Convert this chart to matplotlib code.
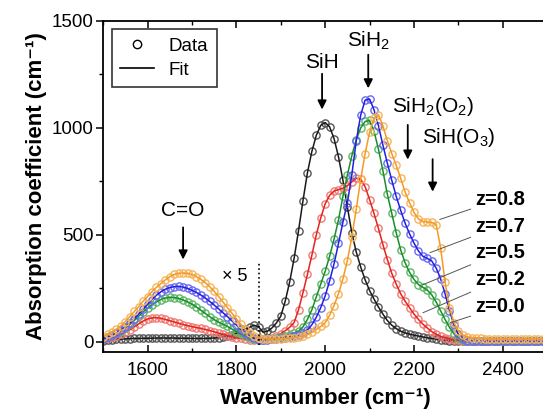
import numpy as np
import matplotlib
matplotlib.use("Agg")
import matplotlib.pyplot as plt
from matplotlib.lines import Line2D

plt.rcParams['font.family'] = ['Liberation Sans', 'DejaVu Sans']
plt.rcParams['mathtext.fontset'] = 'custom'
plt.rcParams['mathtext.rm'] = 'Liberation Sans'
plt.rcParams['mathtext.it'] = 'Liberation Sans:italic'
plt.rcParams['mathtext.bf'] = 'Liberation Sans:bold'

# FTIR spectra, 1500-2500 cm-1 in 10 cm-1 steps (values below 1850 already x5)
wavenumber = np.arange(1500, 2501, 10)

z00 = [5, 8, 10, 12, 13, 14, 15, 16, 16, 17,
       17, 17, 18, 18, 18, 18, 18, 17, 17, 17,
       16, 16, 16, 16, 17, 18, 20, 23, 27, 32,
       40, 48, 58, 68, 78, 70, 45, 50, 65, 88,
       120, 190, 280, 390, 520, 660, 790, 890, 965, 1012,
       1025, 1005, 950, 865, 755, 630, 510, 420, 350, 290,
       240, 200, 163, 130, 100, 78, 62, 50, 42, 36,
       31, 27, 23, 19, 16, 13, 10, 8, 6, 5,
       4, 3, 3, 2, 2, 2, 2, 2, 2, 2,
       2, 2, 2, 2, 2, 2, 2, 2, 2, 2, 2]

z02 = [15, 18, 22, 28, 36, 46, 57, 70, 84, 97,
       107, 112, 113, 110, 105, 99, 93, 87, 81, 76,
       71, 67, 63, 58, 53, 47, 41, 35, 29, 24,
       19, 16, 13, 11, 10, 10, 12, 15, 20, 28,
       38, 52, 68, 90, 150, 230, 315, 405, 500, 580,
       645, 685, 705, 712, 718, 730, 748, 765, 760, 725,
       665, 600, 530, 455, 385, 320, 270, 225, 190, 160,
       130, 105, 83, 65, 48, 36, 26, 19, 14, 10,
       7, 5, 4, 3, 3, 3, 3, 3, 3, 3,
       3, 3, 3, 3, 3, 3, 3, 3, 3, 3, 3]

z05 = [15, 22, 30, 40, 52, 66, 82, 100, 120, 140,
       158, 174, 187, 198, 205, 208, 207, 203, 196, 187,
       176, 163, 148, 133, 118, 104, 92, 82, 72, 60,
       48, 36, 26, 18, 12, 9, 10, 12, 15, 19,
       24, 28, 34, 42, 50, 70, 105, 150, 210, 270,
       330, 400, 480, 570, 680, 780, 870, 945, 1000, 1030,
       1035, 985, 900, 800, 690, 600, 510, 430, 370, 325,
       292, 268, 255, 242, 220, 186, 145, 105, 68, 38,
       18, 9, 5, 3, 3, 3, 3, 3, 3, 3,
       3, 3, 3, 3, 3, 3, 3, 3, 3, 3, 3]

z07 = [15, 22, 31, 42, 55, 70, 88, 108, 130, 153,
       176, 198, 218, 234, 246, 254, 258, 259, 256, 250,
       241, 231, 219, 205, 189, 172, 154, 136, 118, 98,
       79, 58, 40, 26, 16, 10, 9, 10, 12, 14,
       17, 20, 24, 28, 33, 40, 55, 80, 115, 160,
       215, 285, 365, 460, 560, 650, 780, 940, 1060, 1130,
       1135, 1085, 1010, 920, 835, 755, 680, 615, 555, 505,
       462, 425, 400, 390, 378, 345, 295, 225, 145, 80,
       35, 14, 6, 3, 3, 3, 3, 3, 3, 3,
       3, 3, 3, 3, 3, 3, 3, 3, 3, 3, 3]

z08 = [25, 35, 47, 60, 75, 95, 118, 142, 165, 190,
       212, 235, 255, 272, 290, 305, 315, 320, 322, 320,
       315, 305, 292, 277, 258, 236, 212, 186, 160, 134,
       108, 82, 58, 40, 27, 18, 15, 14, 14, 14,
       15, 16, 18, 20, 23, 28, 35, 45, 58, 72,
       90, 125, 170, 225, 295, 380, 490, 620, 760, 880,
       980, 1045, 1062, 1010, 940, 880, 825, 765, 700, 650,
       605, 575, 562, 560, 558, 548, 440, 280, 160, 90,
       50, 32, 24, 20, 18, 16, 15, 14, 13, 12,
       12, 12, 12, 12, 12, 12, 12, 12, 12, 12, 12]

series = [
    ("z=0.0", z00, "#1a1a1a", "#555555"),
    ("z=0.2", z02, "#e3241f", "#f07a74"),
    ("z=0.5", z05, "#1b8c2b", "#5cb865"),
    ("z=0.7", z07, "#2020e0", "#6a6af2"),
    ("z=0.8", z08, "#f39a28", "#f6b55a"),
]

fig = plt.figure(figsize=(5.43, 4.16), dpi=100)
ax = fig.add_axes([0.19, 0.154, 0.8177, 0.7957])

for name, vals, line_col, mark_col in series:
    ax.plot(wavenumber, vals, 'o', ms=5.2, mfc='none', mec=mark_col, mew=1.0)
    ax.plot(wavenumber, vals, '-', color=line_col, lw=1.1)

ax.set_xlim(1500, 2500)
ax.set_ylim(-47, 1500)
ax.set_xticks([1600, 1800, 2000, 2200, 2400])
ax.set_xticks(np.arange(1500, 2501, 100), minor=True)
ax.set_yticks([0, 500, 1000, 1500])
ax.set_yticks([250, 750, 1250], minor=True)
ax.tick_params(axis='x', which='both', direction='in', top=True, labelsize=13.5, pad=7)
ax.tick_params(axis='y', which='both', direction='out', right=True, labelsize=13.5, pad=2)
ax.tick_params(which='major', length=5, width=1.1)
ax.tick_params(which='minor', length=3, width=1.0)
for sp in ax.spines.values():
    sp.set_linewidth(1.3)

ax.set_xlabel("Wavenumber (cm⁻¹)", fontsize=16, fontweight='bold', labelpad=7)
ax.set_ylabel("Absorption coefficient (cm⁻¹)", fontsize=16, fontweight='bold', labelpad=3)

# x5 boundary
ax.plot([1850, 1850], [-15, 370], ':', color='k', lw=1.2)
ax.text(1797, 305, "× 5", fontsize=13, ha='center', va='center')

# band assignments
arrow = dict(arrowstyle='-|>', color='k', lw=1.3, mutation_scale=13)
bands = [
    ("C=O", 1680, 612, 548, 372),
    ("SiH", 1993, 1308, 1266, 1073),
    ("SiH$_2$", 2097, 1405, 1355, 1172),
    ("SiH$_2$(O$_2$)", 2242, 1102, 1027, 839),
    ("SiH(O$_3$)", 2301, 956, 867, 689),
]
arrow_x = {"SiH$_2$(O$_2$)": 2186, "SiH(O$_3$)": 2242}
for label, x, ty, y0, y1 in bands:
    ax.text(x, ty, label, fontsize=15, ha='center', va='center')
    ax_x = arrow_x.get(label, x)
    ax.annotate('', xy=(ax_x, y1), xytext=(ax_x, y0), arrowprops=arrow)

# composition labels with leader lines
leaders = [
    ("z=0.8", 666, 2258, 572),
    ("z=0.7", 540, 2236, 417),
    ("z=0.5", 417, 2220, 267),
    ("z=0.2", 291, 2220, 136),
    ("z=0.0", 164, 2281, 89),
]
for label, ty, px, py in leaders:
    ax.annotate(label, xy=(px, py), xytext=(2337, ty), fontsize=14.5, fontweight='bold',
                va='center', ha='left',
                arrowprops=dict(arrowstyle='-', color='#555555', lw=0.7,
                                shrinkA=1, shrinkB=0))

handles = [Line2D([], [], marker='o', ls='none', mfc='none', mec='k', ms=6, mew=1.0),
           Line2D([], [], color='k', lw=1.2)]
leg = ax.legend(handles, ["Data", "Fit"], loc='upper left', fontsize=13.5,
                frameon=True, fancybox=False, edgecolor='k', handlelength=1.8,
                borderpad=0.45, labelspacing=0.35, borderaxespad=0.45)
leg.get_frame().set_linewidth(1.2)

fig.savefig("out.png", dpi=100)
